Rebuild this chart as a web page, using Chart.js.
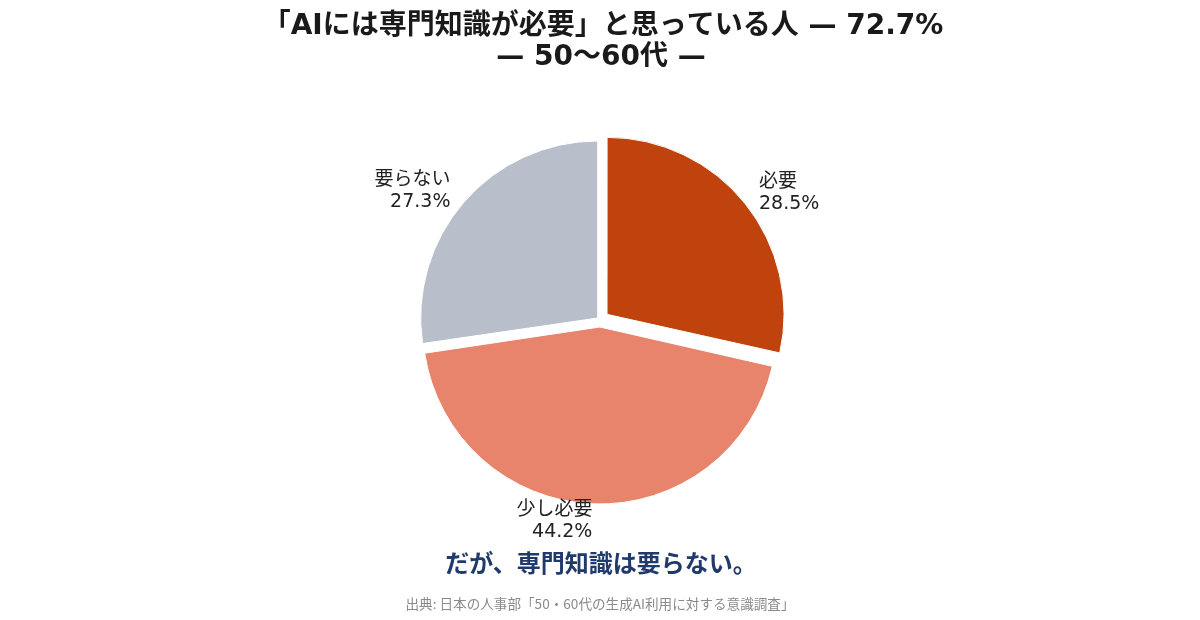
<!DOCTYPE html>
<html lang="ja">
<head>
    <meta charset="UTF-8">
    <title>AIには専門知識が必要と思っている人</title>
    <script src="https://cdn.jsdelivr.net/npm/chart.js"></script>
    <style>
        html, body { margin: 0; padding: 0; background: #ffffff; }
        #wrap { width: 1200px; height: 620px; position: relative; }
    </style>
</head>
<body>
<div id="wrap">
    <canvas id="pie-chart" width="1200" height="620"></canvas>
</div>
<script>
    // Data
    const categories = ['必要', '少し必要', '要らない'];
    const shares = [28.5, 44.2, 27.3];
    const sliceColors = ['#c0420c', '#e8846b', '#b8bfca'];
    const explodePx = [9, 7, 3];   // visible shift of each slice

    const titleLines = ['「AIには専門知識が必要」と思っている人 — 72.7%', '— 50〜60代 —'];
    const tagline = 'だが、専門知識は要らない。';
    const sourceNote = '出典: 日本の人事部「50・60代の生成AI利用に対する意識調査」';

    const FONT = '"DejaVu Sans", "Noto Sans CJK JP", sans-serif';
    const CJK_FONT = '"Noto Sans CJK JP", "DejaVu Sans", sans-serif';

    // Chart.js grows an offset arc's radius a little; undo that so every slice keeps the same radius
    const keepRadius = {
        id: 'keepRadius',
        afterDatasetsUpdate(chart) {
            const meta = chart.getDatasetMeta(0);
            const base = meta.controller.outerRadius;
            meta.data.forEach(arc => {
                const circ = arc.endAngle - arc.startAngle;
                const fix = 1 - Math.sin(Math.min(Math.PI, circ));
                arc.outerRadius = base - (arc.options.offset || 0) / 4 * fix;
            });
        }
    };

    // Outside labels, placed like matplotlib: 1.1 x radius from the exploded centre
    const sliceLabels = {
        id: 'sliceLabels',
        afterDatasetsDraw(chart) {
            const ctx = chart.ctx;
            const meta = chart.getDatasetMeta(0);
            const r = meta.controller.outerRadius;
            ctx.save();
            ctx.font = '19px ' + FONT;
            ctx.fillStyle = '#222222';
            ctx.textBaseline = 'middle';
            meta.data.forEach((arc, i) => {
                const mid = (arc.startAngle + arc.endAngle) / 2;
                // Chart.js v4 moves an arc by offset / 4
                const dist = (arc.options.offset || 0) / 4 + r * 1.1;
                const lx = arc.x + Math.cos(mid) * dist;
                const ly = arc.y + Math.sin(mid) * dist;
                ctx.textAlign = Math.cos(mid) >= 0 ? 'left' : 'right';
                const lines = [categories[i], shares[i].toFixed(1) + '%'];
                const lh = 22;
                lines.forEach((t, k) => {
                    ctx.fillText(t, lx, ly + (k - (lines.length - 1) / 2) * lh);
                });
            });
            ctx.restore();
        }
    };

    // Title, tagline and source line
    const pageText = {
        id: 'pageText',
        afterDraw(chart) {
            const ctx = chart.ctx;
            ctx.save();
            ctx.textAlign = 'center';
            ctx.textBaseline = 'middle';
            ctx.fillStyle = '#1a1a1a';
            ctx.font = 'bold 28px ' + FONT;
            ctx.fillText(titleLines[0], 603, 27);
            ctx.fillText(titleLines[1], 601, 58);

            ctx.fillStyle = '#1f3a6b';
            ctx.font = 'bold 24px ' + CJK_FONT;
            ctx.fillText(tagline, 601, 563);

            ctx.fillStyle = '#8a8a8a';
            ctx.font = '13.6px ' + CJK_FONT;
            ctx.fillText(sourceNote, 600, 604);
            ctx.restore();
        }
    };

    const ctx = document.getElementById('pie-chart').getContext('2d');
    const pieChart = new Chart(ctx, {
        type: 'pie',
        data: {
            labels: categories,
            datasets: [{
                data: shares,
                backgroundColor: sliceColors,
                borderColor: '#ffffff',
                borderWidth: 1,
                offset: explodePx.map(v => v * 4),
                radius: 177
            }]
        },
        options: {
            responsive: false,
            animation: false,
            events: [],
            layout: {
                padding: { left: 400, right: 400, top: 120, bottom: 100 }
            },
            plugins: {
                legend: { display: false },
                tooltip: { enabled: false },
                title: { display: false }
            }
        },
        plugins: [keepRadius, sliceLabels, pageText]
    });
</script>
</body>
</html>
